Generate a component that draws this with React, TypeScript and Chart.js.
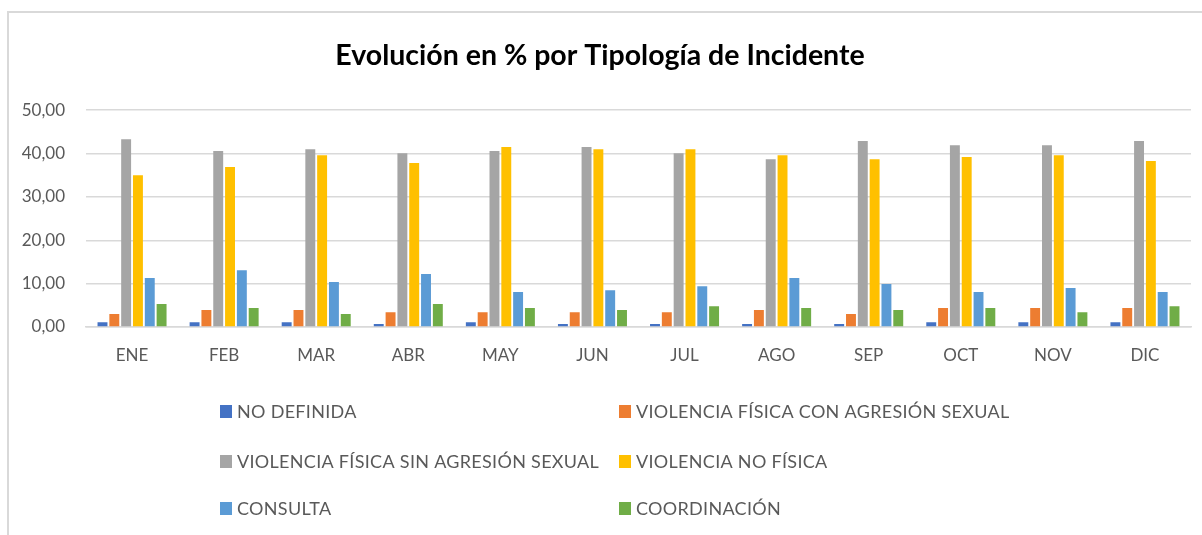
import React, { useEffect, useRef } from "react";
import { Chart, registerables } from "chart.js";

Chart.register(...registerables);

const months = ["ENE", "FEB", "MAR", "ABR", "MAY", "JUN", "JUL", "AGO", "SEP", "OCT", "NOV", "DIC"];

const noDefinida = [1.1, 1.1, 1.1, 0.7, 1.1, 0.7, 0.7, 0.7, 0.7, 1.1, 1.1, 1.1];
const conAgresion = [3.0, 3.9, 3.9, 3.4, 3.4, 3.4, 3.4, 3.9, 3.0, 4.4, 4.4, 4.4];
const sinAgresion = [43.3, 40.6, 41.0, 40.1, 40.6, 41.5, 40.1, 38.7, 42.9, 41.9, 41.9, 42.9];
const noFisica = [35.0, 36.9, 39.6, 37.8, 41.5, 41.0, 41.0, 39.6, 38.7, 39.2, 39.6, 38.3];
const consulta = [11.3, 13.1, 10.4, 12.2, 8.1, 8.5, 9.4, 11.3, 9.9, 8.1, 9.0, 8.1];
const coordinacion = [5.3, 4.4, 3.0, 5.3, 4.4, 3.9, 4.8, 4.4, 3.9, 4.4, 3.4, 4.8];

const seriesLabels = [
  "NO DEFINIDA",
  "VIOLENCIA FÍSICA CON AGRESIÓN SEXUAL",
  "VIOLENCIA FÍSICA SIN AGRESIÓN SEXUAL",
  "VIOLENCIA NO FÍSICA",
  "CONSULTA",
  "COORDINACIÓN",
];
const seriesColors = ["#4472C4", "#ED7D31", "#A5A5A5", "#FFC000", "#5B9BD5", "#70AD47"];
const seriesData = [noDefinida, conAgresion, sinAgresion, noFisica, consulta, coordinacion];

const yTicks = [0, 10, 20, 30, 40, 50];

const TEXT = "#595959";

const legendPlugin = {
  id: "gridLegend",
  afterDraw(chart: any) {
    const ctx = chart.ctx as CanvasRenderingContext2D;
    const colX = [211, 610];
    const rowY = [399, 449, 496];
    ctx.save();
    ctx.font = "18px Lato";
    (ctx as any).letterSpacing = "0.3px";
    ctx.textBaseline = "middle";
    ctx.textAlign = "left";
    chart.data.datasets.forEach((ds: any, i: number) => {
      const x = colX[i % 2];
      const y = rowY[Math.floor(i / 2)];
      ctx.fillStyle = ds.backgroundColor;
      ctx.fillRect(x, y - 7, 12, 13);
      ctx.fillStyle = TEXT;
      ctx.fillText(ds.label, x + 17, y);
    });
    ctx.restore();
  },
};

export default function App() {
  const ref = useRef<HTMLCanvasElement | null>(null);

  useEffect(() => {
    if (!ref.current) return;
    const chart = new Chart(ref.current, {
      type: "bar",
      data: {
        labels: months,
        datasets: seriesData.map((d, i) => ({
          label: seriesLabels[i],
          data: d,
          backgroundColor: seriesColors[i],
          borderWidth: 0,
          barPercentage: 0.84,
          categoryPercentage: 0.77,
        })),
      },
      plugins: [legendPlugin],
      options: {
        animation: false,
        responsive: false,
        maintainAspectRatio: false,
        layout: { padding: { left: 0, right: 11, top: 0, bottom: 170 } },
        plugins: {
          legend: { display: false },
          tooltip: { enabled: false },
          title: {
            display: true,
            text: "Evolución en % por Tipología de Incidente",
            color: "#000000",
            font: { family: "Lato", size: 28.5, weight: "bold" },
            padding: { top: 26, bottom: 37 },
          },
        },
        scales: {
          x: {
            grid: { display: false, drawTicks: false },
            border: { display: true, color: "#d9d9d9", width: 1.5 },
            ticks: { color: TEXT, font: { family: "Lato", size: 17 }, padding: 18 },
            afterFit: (scale: any) => {
              scale.height = 38;
            },
          },
          y: {
            min: 0,
            max: 50,
            afterBuildTicks: (scale: any) => {
              scale.ticks = yTicks.map((v) => ({ value: v }));
            },
            grid: { color: "#d9d9d9", lineWidth: 1.5, drawTicks: false },
            border: { display: false },
            ticks: {
              color: TEXT,
              font: { family: "Lato", size: 17 },
              padding: 21,
              callback: (v: any) => Number(v).toFixed(2).replace(".", ","),
            },
            afterFit: (scale: any) => {
              scale.width = 77;
            },
          },
        },
      },
    } as any);
    return () => chart.destroy();
  }, []);

  return (
    <div
      style={{
        position: "fixed",
        left: 7,
        top: 11,
        width: 1195,
        height: 524,
        borderTop: "2px solid #d9d9d9",
        borderLeft: "2px solid #d9d9d9",
        overflow: "hidden",
        background: "#fff",
      }}
    >
      <canvas ref={ref} width={1193} height={522} style={{ display: "block", width: 1193, height: 522 }} />
    </div>
  );
}
